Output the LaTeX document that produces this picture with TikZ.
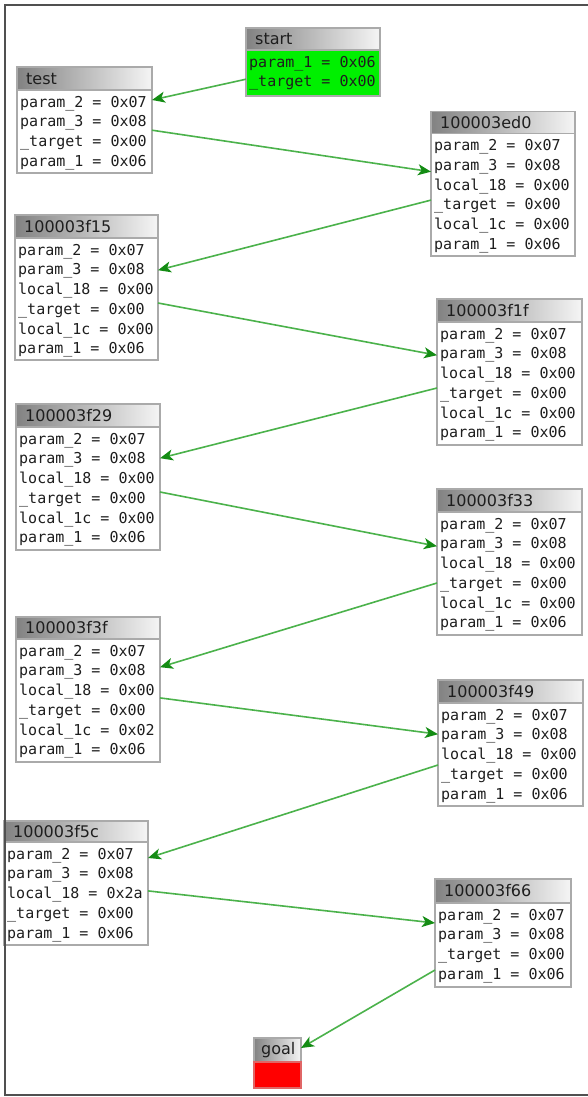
\documentclass[tikz,border=0pt]{standalone}
\usepackage{fontspec}
\newfontfamily\monofnt{DejaVu Sans Mono}
\newfontfamily\hdrfnt{DejaVu Sans}
\usetikzlibrary{arrows.meta,calc}
\definecolor{edgegreen}{RGB}{75,178,75}
\definecolor{tipgreen}{RGB}{20,140,20}
\definecolor{boxline}{RGB}{170,170,170}
\definecolor{hdrdark}{RGB}{130,130,130}
\definecolor{hdrlight}{RGB}{245,245,245}
\definecolor{startgreen}{RGB}{0,240,0}
\definecolor{goalred}{RGB}{255,0,0}
\definecolor{framegray}{RGB}{80,80,80}
\definecolor{txt}{RGB}{30,30,30}
\tikzset{
  hdrbox/.style={draw=boxline, line width=1.2pt, left color=hdrdark, right color=hdrlight, anchor=north west, inner sep=0pt, outer sep=0pt},
  bodybox/.style={draw=boxline, line width=1.2pt, anchor=north west, inner sep=0pt, outer sep=0pt},
  hdrtext/.style={font=\hdrfnt\fontsize{16}{18}\selectfont, text=txt, anchor=west, inner sep=0pt},
  linetext/.style={font=\monofnt\fontsize{15}{18}\selectfont, text=txt, anchor=west, inner sep=0pt, text height=11pt, text depth=3.5pt},
  edge/.style={draw=edgegreen, line width=1.6pt, -{Stealth[length=13pt,width=11pt,inset=3.5pt,color=tipgreen]}},
}
\newcommand\mkblock[9]{%
  \pgfmathsetmacro\bw{#3-#2}%
  \pgfmathsetmacro\hh{#5-#4}%
  \pgfmathsetmacro\bh{#6-#5}%
  \node[hdrbox, minimum width=\bw pt, minimum height=\hh pt] (#1-h) at (#2,#4) {};
  \node[hdrtext] (#1-t) at ([xshift=9pt]#1-h.west) {#7};
  \node[bodybox, fill=#9, minimum width=\bw pt, minimum height=\bh pt] (#1-b) at (#2,#5) {};
  \foreach \ln [count=\i] in {#8} {
    \pgfmathsetmacro\ly{#5+13.5+19.7*(\i-1)}
    \node[linetext] (#1-\i) at (#2+3,\ly) {\ln};
  }
}
\begin{document}
\begin{tikzpicture}[x=1pt,y=-1pt]
\fill[white] (0,0) rectangle (588,1097);
\useasboundingbox (0,0) rectangle (588,1097);

\mkblock{start}{246}{380}{28}{50}{96}{start}{param\_1 = 0x06,\_target = 0x00}{startgreen}
\mkblock{test}{17}{152}{67}{90}{173}{test}{param\_2 = 0x07,param\_3 = 0x08,\_target = 0x00,param\_1 = 0x06}{white}
\mkblock{ed0}{431}{575}{111.5}{133.5}{256}{100003ed0}{param\_2 = 0x07,param\_3 = 0x08,local\_18 = 0x00,\_target = 0x00,local\_1c = 0x00,param\_1 = 0x06}{white}
\mkblock{f15}{15}{158}{215}{238}{360}{100003f15}{param\_2 = 0x07,param\_3 = 0x08,local\_18 = 0x00,\_target = 0x00,local\_1c = 0x00,param\_1 = 0x06}{white}
\mkblock{f1f}{437}{582}{299}{322}{445}{100003f1f}{param\_2 = 0x07,param\_3 = 0x08,local\_18 = 0x00,\_target = 0x00,local\_1c = 0x00,param\_1 = 0x06}{white}
\mkblock{f29}{16}{160}{404}{427}{550}{100003f29}{param\_2 = 0x07,param\_3 = 0x08,local\_18 = 0x00,\_target = 0x00,local\_1c = 0x00,param\_1 = 0x06}{white}
\mkblock{f33}{437}{582}{489}{512}{635}{100003f33}{param\_2 = 0x07,param\_3 = 0x08,local\_18 = 0x00,\_target = 0x00,local\_1c = 0x00,param\_1 = 0x06}{white}
\mkblock{f3f}{16}{160}{617}{639}{762}{100003f3f}{param\_2 = 0x07,param\_3 = 0x08,local\_18 = 0x00,\_target = 0x00,local\_1c = 0x02,param\_1 = 0x06}{white}
\mkblock{f49}{438}{583}{680}{703}{806}{100003f49}{param\_2 = 0x07,param\_3 = 0x08,local\_18 = 0x00,\_target = 0x00,param\_1 = 0x06}{white}
\mkblock{f5c}{4}{148}{821}{842}{945}{100003f5c}{param\_2 = 0x07,param\_3 = 0x08,local\_18 = 0x2a,\_target = 0x00,param\_1 = 0x06}{white}
\mkblock{f66}{435}{571}{879}{903}{987}{100003f66}{param\_2 = 0x07,param\_3 = 0x08,\_target = 0x00,param\_1 = 0x06}{white}

% goal
\node[hdrbox, minimum width=47pt, minimum height=24pt] (goal-h) at (254,1038) {};
\node[hdrtext] (goal-t) at ([xshift=7pt]goal-h.west) {goal};
\node[bodybox, draw=goalred!80!black!60, fill=goalred, minimum width=47pt, minimum height=26pt] (goal-b) at (254,1062) {};

% edges
\draw[edge] ($(start-b.west |- start-2)+(0,-4)$) -- ($(test-b.east |- test-1)+(0,-3.5)$);
\draw[edge] ($(test-b.east |- test-2)+(0,7)$) -- ($(ed0-b.west |- ed0-2)+(0,5)$);
\draw[edge] ($(ed0-b.west |- ed0-4)+(0,-6)$) -- ($(f15-b.east |- f15-2)+(0,-1)$);
\draw[edge] ($(f15-b.east |- f15-4)+(0,-7.6)$) -- ($(f1f-b.west |- f1f-2)+(0,0)$);
\draw[edge] ($(f1f-b.west |- f1f-4)+(0,-6.6)$) -- ($(f29-b.east |- f29-2)+(0,-2)$);
\draw[edge] ($(f29-b.east |- f29-4)+(0,-7.6)$) -- ($(f33-b.west |- f33-2)+(0,1)$);
\draw[edge] ($(f33-b.west |- f33-4)+(0,-1.6)$) -- ($(f3f-b.east |- f3f-2)+(0,-5)$);
\draw[edge] ($(f3f-b.east |- f3f-3)+(0,6)$) -- ($(f49-b.west |- f49-2)+(0,-2)$);
\draw[edge] ($(f49-b.west |- f49-4)+(0,-10.6)$) -- ($(f5c-b.east |- f5c-1)+(0,2.5)$);
\draw[edge] ($(f5c-b.east |- f5c-3)+(0,-4)$) -- ($(f66-b.west |- f66-1)+(0,6.5)$);
\draw[edge] ($(f66-b.west |- f66-4)+(0,-5.6)$) -- ($(goal-h.east)+(0,-2)$);

% frame
\draw[framegray, line width=2pt] (588,5) -- (5,5) -- (5,1095) -- (588,1095);
\end{tikzpicture}
\end{document}
